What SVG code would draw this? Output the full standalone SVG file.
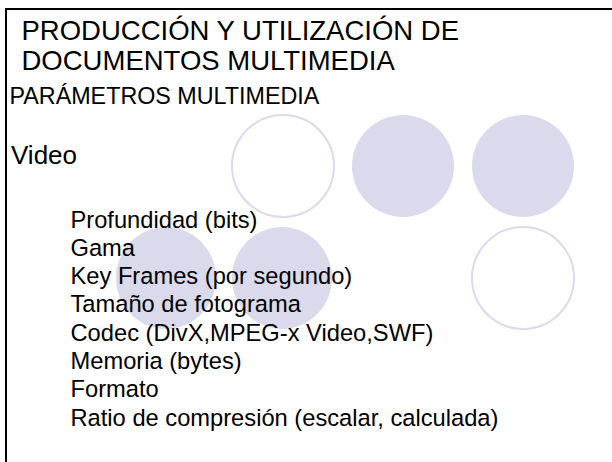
<svg xmlns="http://www.w3.org/2000/svg" width="612" height="462" viewBox="0 0 612 462">
<style>
.t{font-family:"Liberation Sans",Arial,sans-serif;fill:#000}
.h{font-size:27.5px}
.s{font-size:23.3px}
.v{font-size:26px}
.l{font-size:23.7px}
.fill{fill:#DADAEC;stroke:none}
.ring{fill:#fff;stroke:#DADAEC;stroke-width:2}
</style>
<rect width="612" height="462" fill="#fff"/>
<g id="frame"><path d="M6 462V9H612" fill="none" stroke="#000" stroke-width="2"/></g>
<g id="circles">
<ellipse class="ring" cx="283" cy="166" rx="51" ry="51"/>
<ellipse class="fill" cx="403" cy="166" rx="51" ry="51"/>
<ellipse class="fill" cx="523" cy="166" rx="51" ry="51"/>
<ellipse class="fill" cx="166" cy="278" rx="50" ry="51"/>
<ellipse class="fill" cx="282" cy="278" rx="50" ry="51"/>
<ellipse class="ring" cx="523" cy="278" rx="51" ry="51"/>
</g>
<g id="title">
<text class="t h" x="21.5" y="39.5">PRODUCCIÓN Y UTILIZACIÓN DE</text>
<text class="t h" x="21.5" y="69.5">DOCUMENTOS MULTIMEDIA</text>
</g>
<g id="subtitle">
<text class="t s" x="9.5" y="104">PARÁMETROS MULTIMEDIA</text>
</g>
<g id="video">
<text class="t v" x="11" y="164">Video</text>
</g>
<g id="list">
<text class="t l" x="70.5" y="227.5">Profundidad (bits)</text>
<text class="t l" x="70.5" y="255.8">Gama</text>
<text class="t l" x="70.5" y="284.1">Key Frames (por segundo)</text>
<text class="t l" x="70.5" y="312.4">Tamaño de fotograma</text>
<text class="t l" x="70.5" y="340.7">Codec (DivX,MPEG-x Video,SWF)</text>
<text class="t l" x="70.5" y="369">Memoria (bytes)</text>
<text class="t l" x="70.5" y="397.3">Formato</text>
<text class="t l" x="70.5" y="425.6">Ratio de compresión (escalar, calculada)</text>
</g>
<g id="connectors"></g>
</svg>
